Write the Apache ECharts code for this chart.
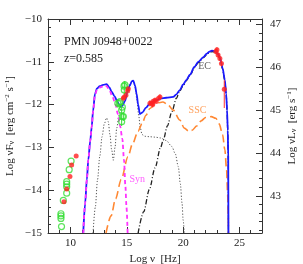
<!DOCTYPE html>
<html><head><meta charset="utf-8">
<script src="https://cdn.jsdelivr.net/npm/echarts@6.0.0/dist/echarts.min.js"></script>
<style>html,body{margin:0;padding:0;background:#fff}#c{width:303px;height:264px}</style>
</head><body><div id="c"></div>
<script>
// ---- data (log nu [Hz], log nuFnu [erg cm^-2 s^-1]) ----
const totalModel = [[11.13,-15.0],[11.3,-14.3],[11.45,-13.75],[11.58,-13.29],[11.75,-12.85],[11.88,-12.52],[12.0,-12.15],[12.17,-11.75],[12.35,-11.62],[12.6,-11.57],[12.9,-11.54],[13.2,-11.52],[13.45,-11.6],[13.65,-11.7],[13.9,-11.8],[14.1,-11.9],[14.3,-11.99],[14.45,-12.05],[14.6,-12.03],[14.83,-11.92],[15.05,-11.7],[15.27,-11.55],[15.45,-11.45],[15.57,-11.44],[15.72,-11.55],[15.87,-11.75],[16.0,-12.0],[16.16,-12.22],[16.4,-12.18],[16.7,-12.07],[17.05,-11.97],[17.5,-11.9],[18.0,-11.86],[18.5,-11.84],[19.12,-11.82],[19.4,-11.76],[19.7,-11.66],[20.0,-11.53],[20.3,-11.42],[20.6,-11.3],[21.0,-11.12],[21.34,-11.0],[21.8,-10.89],[22.1,-10.81],[22.3,-10.77],[22.55,-10.74],[22.8,-10.75],[23.1,-10.81],[23.3,-10.93],[23.5,-11.15],[23.7,-11.42],[23.82,-11.75],[23.9,-12.13],[23.96,-12.6],[24.0,-13.2],[24.02,-15.0]];
const synModel = [[11.13,-15.0],[11.3,-14.3],[11.45,-13.75],[11.58,-13.29],[11.75,-12.85],[11.88,-12.52],[12.0,-12.16],[12.17,-11.78],[12.35,-11.65],[12.6,-11.6],[12.9,-11.57],[13.2,-11.57],[13.45,-11.66],[13.7,-11.8],[14.0,-12.0],[14.2,-12.22],[14.4,-12.5],[14.6,-12.8],[14.75,-13.3],[14.87,-13.9],[14.97,-14.4],[15.07,-15.0]];
const thermalModel = [[12.0,-15.0],[12.2,-14.4],[12.4,-13.75],[12.6,-13.2],[12.8,-12.75],[13.0,-12.45],[13.2,-12.31],[13.35,-12.4],[13.5,-12.7],[13.65,-13.05],[13.8,-13.3],[13.95,-13.0],[14.1,-12.55],[14.3,-12.25],[14.5,-12.08],[14.75,-11.85],[15.0,-11.65],[15.27,-11.52],[15.5,-11.46],[15.6,-11.47],[15.75,-11.62],[15.9,-11.9],[16.05,-12.25],[16.2,-12.55],[16.35,-12.7],[16.6,-12.74],[17.0,-12.75],[17.5,-12.76],[18.0,-12.78],[18.5,-12.84],[19.0,-12.98],[19.3,-13.15],[19.57,-13.45],[19.75,-13.85],[19.9,-14.3],[20.0,-14.7],[20.1,-15.0]];
const sscModel = [[13.15,-15.0],[13.6,-14.6],[14.0,-14.2],[14.5,-13.75],[15.1,-13.22],[15.5,-12.92],[16.0,-12.62],[16.34,-12.45],[16.7,-12.25],[17.05,-12.09],[17.5,-11.99],[17.94,-11.95],[18.2,-11.94],[18.6,-11.99],[19.12,-12.13],[19.7,-12.36],[20.1,-12.55],[20.5,-12.62],[20.8,-12.6],[21.2,-12.5],[21.6,-12.38],[22.0,-12.3],[22.5,-12.28],[22.9,-12.32],[23.2,-12.45],[23.5,-12.7],[23.7,-13.05],[23.85,-13.5],[23.95,-14.1],[24.0,-14.6],[24.02,-15.0]];
const ecModel = [[16.0,-15.0],[16.5,-14.5],[17.0,-13.98],[17.5,-13.48],[18.0,-13.0],[18.23,-12.83],[18.6,-12.5],[19.0,-12.16],[19.4,-11.85],[19.7,-11.68],[20.0,-11.56],[20.3,-11.44],[20.6,-11.32],[21.0,-11.14],[21.34,-11.02],[21.8,-10.9],[22.1,-10.83],[22.3,-10.79],[22.55,-10.76],[22.8,-10.77],[23.1,-10.83],[23.3,-10.95],[23.5,-11.17],[23.7,-11.44],[23.82,-11.77],[23.9,-12.15],[23.96,-12.62],[24.0,-13.2],[24.02,-15.0]];

const greenRadio = [[10.05,-13.32],[9.88,-13.52],[9.66,-13.8],[9.66,-13.86],[9.66,-13.92],[9.66,-14.07],[9.36,-14.24],[9.15,-14.55],[9.15,-14.6],[9.15,-14.66],[9.2,-14.85]];
const redRadio = [[10.5,-13.2],[10.1,-13.41],[9.95,-13.68],[9.66,-13.97],[9.42,-14.27]];
const greenOptical = [[14.2,-11.97],[14.33,-11.96],[14.4,-11.93],[14.54,-12.13],[14.6,-12.06],[14.6,-12.28],[14.54,-12.4],[14.69,-12.28],[14.77,-11.66],[14.83,-11.54],[14.75,-11.57]];
const greenOpticalErr = [[14.2,-11.87,-12.07],[14.54,-12.0,-12.5],[14.69,-12.18,-12.38],[14.77,-11.45,-11.78],[14.83,-11.45,-11.65]];
const redOptical = [[14.69,-11.85],[14.75,-11.83],[14.92,-11.78],[15.07,-11.68],[15.13,-11.63]];
const redXray = [[17.05,-11.97],[17.2,-11.97],[17.3,-12.0],[17.34,-11.92],[17.5,-11.9],[17.6,-11.93],[17.8,-11.86],[17.94,-11.82]];
const redXrayErr = [[17.05,-11.9,-12.04],[17.3,-11.93,-12.07],[17.5,-11.84,-11.96],[17.94,-11.76,-11.88]];
const redGamma = [[22.9,-10.76],[23.0,-10.72],[23.1,-10.84],[23.26,-10.92],[23.4,-11.04],[23.65,-11.64]];
const redGammaErr = [[22.9,-10.7,-10.82],[23.0,-10.66,-10.78],[23.1,-10.78,-10.9],[23.26,-10.86,-10.98],[23.4,-10.97,-11.11],[23.65,-11.43,-12.08]];

const xMajor = [10,15,20,25];
const yLeftMajor = [-15,-14,-13,-12,-11,-10];
const yRightMajor = [43,44,45,46,47];
const componentLabels = [{name:'Syn', x:15.23, y:-13.74, color:'#ff33ff', align:'left'},
                         {name:'SSC', x:21.27, y:-12.13, color:'#ff8833', align:'center'},
                         {name:'EC',  x:21.9, y:-11.1, color:'#333333', align:'center'}];
const titleLines = ['PMN J0948+0022','z=0.585'];
const lumOffset = 57.13;

// ---- chart ----
const X0 = 8, X1 = 27, Y0 = -15, Y1 = -10;
const xMinor = []; for (let v = X0; v <= X1; v++) xMinor.push(v);
const yRightMinor = []; for (let k = 0; k <= 30; k++) { const v = Math.round((42.2 + 0.2*k)*10)/10; if (v > Y0+lumOffset && v < Y1+lumOffset) yRightMinor.push(v); }
const FONT = 'Liberation Serif';
const axCol = '#333';
const minus = v => (v < 0 ? '\u2212' : '') + Math.abs(v);

function xAx(pos, ticks, len, showLine, labels, name) {
  return { type:'value', position:pos, min:X0, max:X1, splitLine:{show:false},
    axisLine:{show:showLine, onZero:false, lineStyle:{color:axCol, width:1}},
    axisTick:{show:true, inside:true, length:len, customValues:ticks, lineStyle:{color:axCol, width:1}},
    axisLabel:{show:labels, customValues:ticks, color:'#222', fontFamily:FONT, fontSize:11, margin:5},
    name:name||'', nameLocation:'middle', nameGap:16,
    nameTextStyle:{color:'#222', fontFamily:FONT, fontSize:11} };
}
function errSeries(data, color) {
  return { type:'custom', xAxisIndex:0, yAxisIndex:0, data:data, z:4, clip:true,
    encode:{x:0, y:[1,2]},
    renderItem:(p, api) => { const a = api.coord([api.value(0), api.value(1)]), b = api.coord([api.value(0), api.value(2)]);
      return {type:'line', shape:{x1:a[0], y1:a[1], x2:b[0], y2:b[1]}, style:{stroke:color, lineWidth:1}}; } };
}
function lineSeries(data, color, width, dash) {
  return { type:'line', data:data, xAxisIndex:0, yAxisIndex:0, symbol:'none', smooth:0.3, smoothMonotone:'x',
    lineStyle:{color:color, width:width, type:dash}, z:3, clip:true, silent:true };
}
function scat(data, color, hollow, size) {
  return { type:'scatter', data:data, xAxisIndex:0, yAxisIndex:0, symbol:'circle', symbolSize:size, z:5,
    itemStyle: hollow ? {color:'rgba(0,0,0,0)', borderColor:color, borderWidth:1.2} : {color:color} };
}
const nameRich = {s:{fontFamily:FONT, fontSize:8, verticalAlign:'bottom', padding:[4,0,0,0]}, u:{fontFamily:FONT, fontSize:7, verticalAlign:'top', padding:[0,0,5,0]}};

const chart = echarts.init(document.getElementById('c'), null, {renderer:'canvas'});
chart.setOption({
  animation:false, backgroundColor:'#fff',
  grid:{left:48, right:41, top:19, bottom:31, containLabel:false, outerBoundsMode:'none'},
  title:[{text:titleLines[0], left:59, top:31, textStyle:{fontFamily:FONT, fontSize:12, fontWeight:'normal', color:'#222'}},
         {text:titleLines[1], left:59, top:48, textStyle:{fontFamily:FONT, fontSize:12, fontWeight:'normal', color:'#222'}}],
  xAxis:[
    xAx('bottom', xMajor, 6, true, true, 'Log \u03bd  [Hz]'),
    xAx('bottom', xMinor, 3, false, false),
    xAx('top', xMajor, 6, true, false),
    xAx('top', xMinor, 3, false, false)
  ],
  yAxis:[
    { type:'value', position:'left', min:Y0, max:Y1, interval:1, splitLine:{show:false},
      axisLine:{show:true, onZero:false, lineStyle:{color:axCol}},
      axisTick:{inside:true, length:6, lineStyle:{color:axCol}},
      minorTick:{show:true, splitNumber:5, length:3, lineStyle:{color:axCol}},
      axisLabel:{formatter:minus, color:'#222', fontFamily:FONT, fontSize:11, margin:6},
      name:'Log \u03bdF{s|\u03bd}  [erg cm{u|\u22122} s{u|\u22121}]', nameLocation:'middle', nameGap:32, nameRotate:90, nameMoveOverlap:false,
      nameTextStyle:{color:'#222', fontFamily:FONT, fontSize:11, rich:nameRich} },
    { type:'value', position:'right', min:Y0+lumOffset, max:Y1+lumOffset, splitLine:{show:false},
      axisLine:{show:true, onZero:false, lineStyle:{color:axCol}},
      axisTick:{inside:true, length:6, customValues:yRightMajor, lineStyle:{color:axCol}},
      axisLabel:{customValues:yRightMajor, color:'#222', fontFamily:FONT, fontSize:11, margin:8},
      name:'Log \u03bdL{s|\u03bd}  [erg s{u|\u22121}]', nameLocation:'middle', nameGap:24, nameRotate:90, nameMoveOverlap:false,
      nameTextStyle:{color:'#222', fontFamily:FONT, fontSize:11, rich:nameRich} },
    { type:'value', position:'right', min:Y0+lumOffset, max:Y1+lumOffset, splitLine:{show:false},
      axisLine:{show:false}, axisLabel:{show:false},
      axisTick:{inside:true, length:3, customValues:yRightMinor, lineStyle:{color:axCol}} }
  ],
  series:[
    lineSeries(thermalModel, '#555', 1, [1.2,1.8]),
    lineSeries(ecModel, '#222', 1.3, [5,2,1,2]),
    lineSeries(sscModel, '#ff8833', 1.6, [8,4]),
    lineSeries(totalModel, '#1a1aff', 1.8, 'solid'),
    lineSeries(synModel, '#ff33ff', 1.8, [4,3]),
    errSeries(greenOpticalErr, '#33dd33'),
    errSeries(redXrayErr, '#ff3333'),
    errSeries(redGammaErr, '#ff3333'),
    scat(greenRadio, '#33dd33', true, 6),
    scat(greenOptical, '#33dd33', true, 6),
    scat(redRadio, '#ff2222', false, 5),
    scat(redOptical, '#ff2222', false, 5),
    scat(redXray, '#ff2222', false, 5),
    scat(redGamma, '#ff2222', false, 5),
    { type:'scatter', xAxisIndex:0, yAxisIndex:0, symbolSize:0, z:6, silent:true,
      data: componentLabels.map(l => ({value:[l.x, l.y], label:{show:true, position:'inside', formatter:l.name, color:l.color, align:l.align, verticalAlign:'middle', fontFamily:FONT, fontSize:10}})) }
  ]
});
</script></body></html>
